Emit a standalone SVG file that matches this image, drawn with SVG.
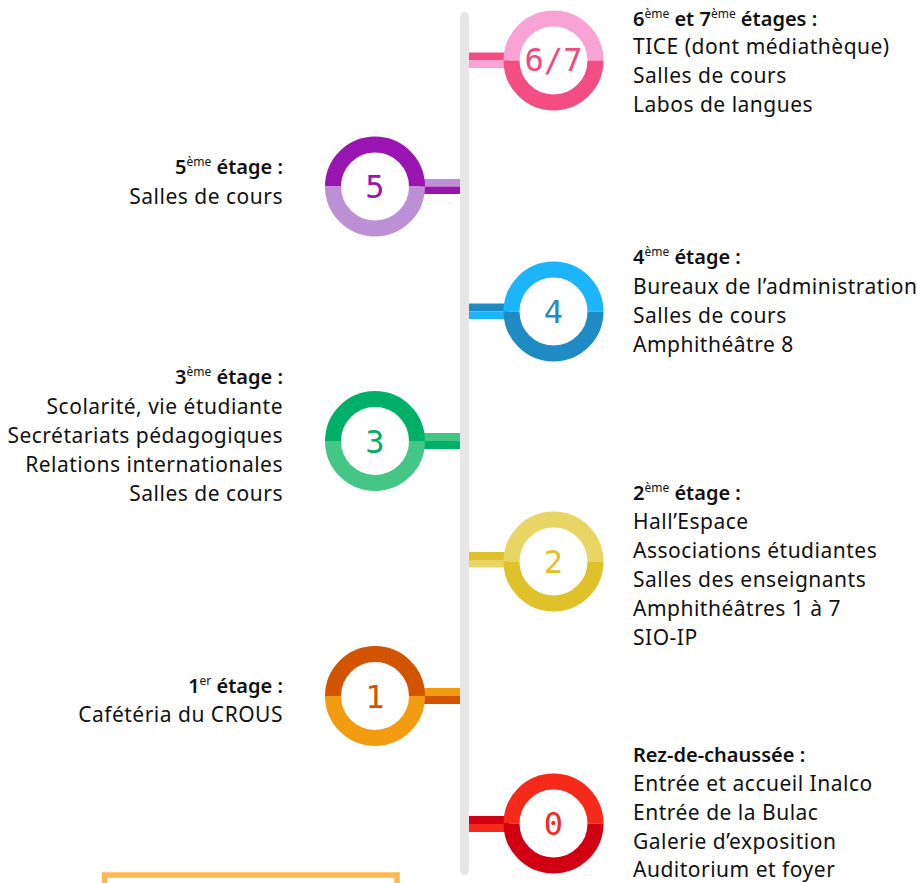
<svg xmlns="http://www.w3.org/2000/svg" width="917" height="883" viewBox="0 0 917 883">
<style>
.t{font-family:"Noto Sans","Liberation Sans",sans-serif;font-size:21px;letter-spacing:0.5px;fill:#111}
.h{font-weight:600;font-size:20px;letter-spacing:0}
.s{font-size:12px;font-weight:400}
.r{text-anchor:end}
.n{font-family:"DejaVu Sans Mono",monospace;font-size:32px;text-anchor:middle}
.ring{fill:none;stroke-width:16}
</style>
<rect x="104.5" y="875" width="292.5" height="30" fill="none" stroke="#ffb84f" stroke-width="5.5"/>
<g id="connectors">
<rect x="460" y="12" width="9" height="863" rx="4.5" fill="#e6e6e6"/>
<rect x="469" y="52.5" width="40" height="8" fill="#f34d84"/><rect x="469" y="60.5" width="40" height="7.5" fill="#f9a3d4"/>
<rect x="420" y="179" width="40" height="7.5" fill="#bd8fd5"/><rect x="420" y="186.5" width="40" height="7.5" fill="#9a14b2"/>
<rect x="469" y="303.5" width="40" height="8" fill="#1f8bc4"/><rect x="469" y="311.5" width="40" height="7.5" fill="#1cb5fb"/>
<rect x="420" y="433" width="40" height="8" fill="#44c687"/><rect x="420" y="441" width="40" height="8" fill="#00b069"/>
<rect x="469" y="552" width="40" height="8" fill="#dfc12a"/><rect x="469" y="560" width="40" height="7.5" fill="#e8d563"/>
<rect x="420" y="688" width="40" height="8" fill="#f39c12"/><rect x="420" y="696" width="40" height="8" fill="#d35400"/>
<rect x="469" y="816" width="40" height="8" fill="#d10013"/><rect x="469" y="824" width="40" height="8" fill="#f52a1a"/>
</g>
<g id="n67">
<path class="ring" d="M511.5 60.5A42 42 0 0 1 595.5 60.5" stroke="#f9a3d4"/>
<path class="ring" d="M511.5 60.5A42 42 0 0 0 595.5 60.5" stroke="#f34d84"/>
<text class="n" x="553.5" y="71" fill="#f2497f" font-size="30">6/7</text>
<text class="t h" x="633" y="26">6<tspan class="s" dy="-8">ème</tspan><tspan dy="8"> et 7</tspan><tspan class="s" dy="-8">ème</tspan><tspan dy="8"> étages :</tspan></text>
<text class="t" x="633" y="54">TICE (dont médiathèque)</text>
<text class="t" x="633" y="83">Salles de cours</text>
<text class="t" x="633" y="112">Labos de langues</text>
</g>
<g id="n5">
<path class="ring" d="M333 186.5A42 42 0 0 1 417 186.5" stroke="#9a14b2"/>
<path class="ring" d="M333 186.5A42 42 0 0 0 417 186.5" stroke="#bd8fd5"/>
<text class="n" x="375" y="198" fill="#9a14b2">5</text>
<text class="t h r" x="283" y="174">5<tspan class="s" dy="-8">ème</tspan><tspan dy="8"> étage :</tspan></text>
<text class="t r" x="283" y="204">Salles de cours</text>
</g>
<g id="n4">
<path class="ring" d="M511.5 311.5A42 42 0 0 1 595.5 311.5" stroke="#1cb5fb"/>
<path class="ring" d="M511.5 311.5A42 42 0 0 0 595.5 311.5" stroke="#1f8bc4"/>
<text class="n" x="553.5" y="323" fill="#1f8bc4">4</text>
<text class="t h" x="633" y="264">4<tspan class="s" dy="-8">ème</tspan><tspan dy="8"> étage :</tspan></text>
<text class="t" x="633" y="294">Bureaux de l’administration</text>
<text class="t" x="633" y="323">Salles de cours</text>
<text class="t" x="633" y="352">Amphithéâtre 8</text>
</g>
<g id="n3">
<path class="ring" d="M333 441A42 42 0 0 1 417 441" stroke="#00b069"/>
<path class="ring" d="M333 441A42 42 0 0 0 417 441" stroke="#44c687"/>
<text class="n" x="375" y="452.5" fill="#00b069">3</text>
<text class="t h r" x="283" y="384">3<tspan class="s" dy="-8">ème</tspan><tspan dy="8"> étage :</tspan></text>
<text class="t r" x="283" y="414">Scolarité, vie étudiante</text>
<text class="t r" x="283" y="443">Secrétariats pédagogiques</text>
<text class="t r" x="283" y="472">Relations internationales</text>
<text class="t r" x="283" y="501">Salles de cours</text>
</g>
<g id="n2">
<path class="ring" d="M511.5 561.5A42 42 0 0 1 595.5 561.5" stroke="#e8d563"/>
<path class="ring" d="M511.5 561.5A42 42 0 0 0 595.5 561.5" stroke="#dfc12a"/>
<text class="n" x="553.5" y="573" fill="#dfc12a">2</text>
<text class="t h" x="633" y="500">2<tspan class="s" dy="-8">ème</tspan><tspan dy="8"> étage :</tspan></text>
<text class="t" x="633" y="529">Hall’Espace</text>
<text class="t" x="633" y="558">Associations étudiantes</text>
<text class="t" x="633" y="587">Salles des enseignants</text>
<text class="t" x="633" y="616">Amphithéâtres 1 à 7</text>
<text class="t" x="633" y="645">SIO-IP</text>
</g>
<g id="n1">
<path class="ring" d="M333 696A42 42 0 0 1 417 696" stroke="#d35400"/>
<path class="ring" d="M333 696A42 42 0 0 0 417 696" stroke="#f39c12"/>
<text class="n" x="375" y="707.5" fill="#d35400">1</text>
<text class="t h r" x="283" y="693">1<tspan class="s" dy="-8">er</tspan><tspan dy="8"> étage :</tspan></text>
<text class="t r" x="283" y="722">Cafétéria du CROUS</text>
</g>
<g id="n0">
<path class="ring" d="M511.5 823.5A42 42 0 0 1 595.5 823.5" stroke="#f52a1a"/>
<path class="ring" d="M511.5 823.5A42 42 0 0 0 595.5 823.5" stroke="#d10013"/>
<text class="n" x="553.5" y="835" fill="#f52a1a">0</text>
<text class="t h" x="633" y="762">Rez-de-chaussée :</text>
<text class="t" x="633" y="791">Entrée et accueil Inalco</text>
<text class="t" x="633" y="820">Entrée de la Bulac</text>
<text class="t" x="633" y="849">Galerie d’exposition</text>
<text class="t" x="633" y="877">Auditorium et foyer</text>
</g>
</svg>
